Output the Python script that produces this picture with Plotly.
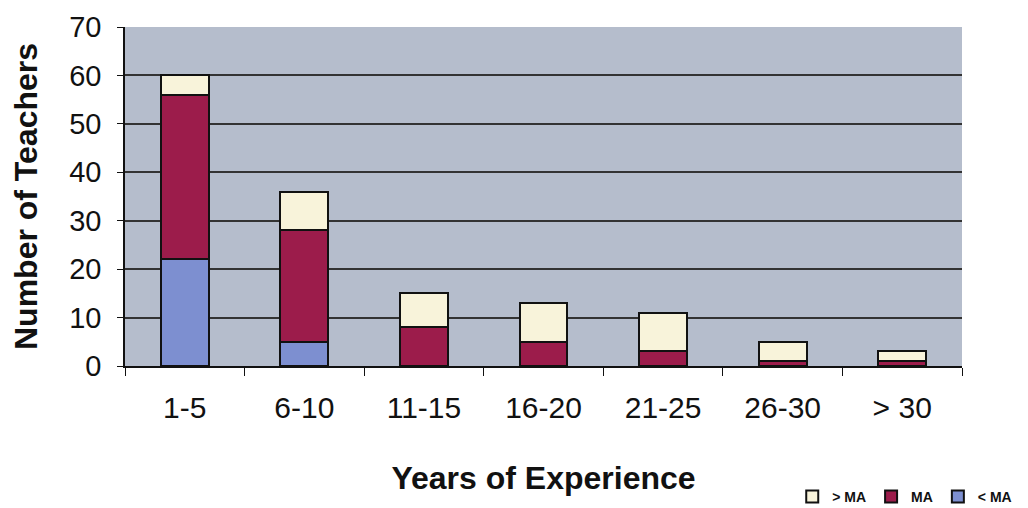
import plotly.graph_objects as go

categories = ["1-5", "6-10", "11-15", "16-20", "21-25", "26-30", "> 30"]
below_ma = [22, 5, 0, 0, 0, 0, 0]
ma = [34, 23, 8, 5, 3, 1, 1]
above_ma = [4, 8, 7, 8, 8, 4, 2]

fig = go.Figure()
fig.add_trace(go.Bar(x=categories, y=below_ma, name="<b>< MA</b>",
                     marker=dict(color="#7d8fd0", line=dict(color="#111", width=2))))
fig.add_trace(go.Bar(x=categories, y=ma, name="<b>MA</b>",
                     marker=dict(color="#9c1c4b", line=dict(color="#111", width=2))))
fig.add_trace(go.Bar(x=categories, y=above_ma, name="<b>> MA</b>",
                     marker=dict(color="#f8f3da", line=dict(color="#111", width=2))))

# page body adds an 8px offset, so the figure is 1020x500 placed at (8, 8)
fig.update_layout(
    barmode="stack",
    bargap=0.6,
    width=1020, height=500,
    margin=dict(l=117, r=66, t=19, b=142, autoexpand=False),
    paper_bgcolor="white",
    plot_bgcolor="#b5bdcc",
    font=dict(family="Arial, Liberation Sans, sans-serif", color="#111"),
    showlegend=True,
    legend=dict(orientation="h", traceorder="reversed", x=1.066, xanchor="right",
                y=-0.386, yanchor="middle", font=dict(size=14, color="#111"),
                itemwidth=30, bgcolor="rgba(0,0,0,0)"),
)
fig.update_yaxes(range=[0, 70], dtick=10, showgrid=True, gridcolor="#333", gridwidth=1.5,
                 showline=True, linecolor="#111", linewidth=1.5, ticks="outside",
                 ticklen=6, tickcolor="#111", tickfont=dict(size=29),
                 ticklabelstandoff=10, automargin=False,
                 title=dict(text="<b>Number of Teachers</b>", font=dict(size=32), standoff=25),
                 zeroline=False)
fig.update_xaxes(showline=True, linecolor="#111", linewidth=1.5, ticks="outside",
                 tickson="boundaries", ticklen=8, tickcolor="#111",
                 tickfont=dict(size=30), ticklabelstandoff=14, automargin=False,
                 title=dict(text="<b>Years of Experience</b>", font=dict(size=32), standoff=44))

fig.write_html("out.html")
